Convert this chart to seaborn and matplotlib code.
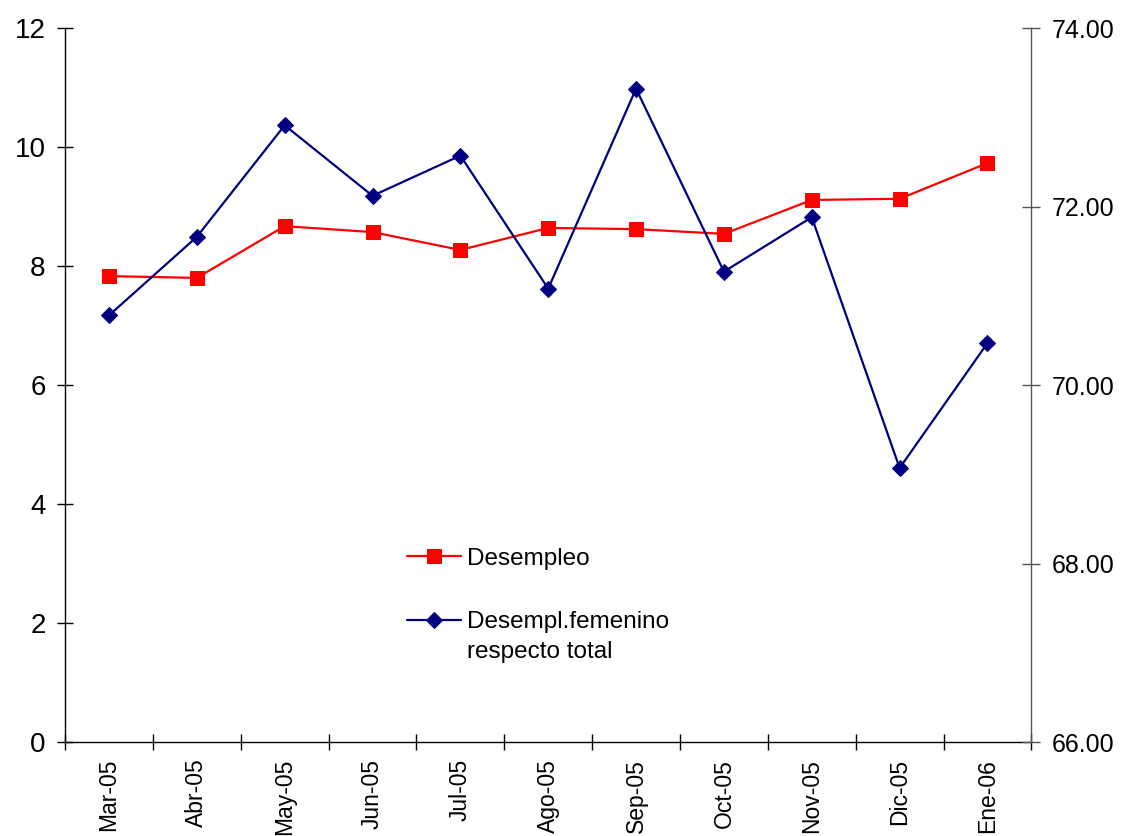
import matplotlib
matplotlib.use("Agg")
import matplotlib.pyplot as plt
import seaborn as sns
import pandas as pd
import numpy as np
from matplotlib.ticker import FixedLocator, FormatStrFormatter
from matplotlib.legend_handler import HandlerLine2D

sns.set_style("white")
plt.rcParams['font.family'] = ['Liberation Sans', 'DejaVu Sans']
plt.rcParams['text.color'] = 'black'
plt.rcParams['xtick.color'] = 'black'
plt.rcParams['ytick.color'] = 'black'

months = ["Mar-05", "Abr-05", "May-05", "Jun-05", "Jul-05", "Ago-05",
          "Sep-05", "Oct-05", "Nov-05", "Dic-05", "Ene-06"]
desempleo = [7.83, 7.80, 8.67, 8.57, 8.27, 8.64, 8.62, 8.54, 9.11, 9.13, 9.73]
femenino = [70.78, 71.66, 72.91, 72.12, 72.57, 71.08, 73.32, 71.27, 71.88, 69.07, 70.47]

label_red = "Desempleo"
label_blue = "Desempl.femenino\nrespecto total"

df = pd.DataFrame({"x": np.arange(len(months)), "des": desempleo, "fem": femenino})

fig = plt.figure(figsize=(11.25, 8.36), dpi=100)
ax = fig.add_axes([0.0578, 0.1124, 0.859, 0.8541])
ax2 = ax.twinx()

sns.lineplot(data=df, x="x", y="des", ax=ax, color="#FF0000", marker="s",
             markersize=10, markeredgecolor="#FF0000", linewidth=1.6, label=label_red, legend=False)
sns.lineplot(data=df, x="x", y="fem", ax=ax2, color="#000080", marker="D",
             markersize=8, markeredgecolor="#000080", linewidth=1.6, label=label_blue, legend=False)

ax.set_xlim(-0.5, len(months) - 0.5)
ax.set_ylim(0, 12)
ax2.set_ylim(66, 74)
ax.set_yticks(np.arange(0, 13, 2))
ax2.set_yticks(np.arange(66, 75, 2))
ax2.yaxis.set_major_formatter(FormatStrFormatter("%.2f"))

ax.set_xticks(np.arange(len(months)))
ax.set_xticklabels(months, rotation=90, fontsize=16.5)
ax.xaxis.set_minor_locator(FixedLocator(np.arange(-0.5, len(months), 1.0)))
ax.tick_params(axis="x", which="major", length=0, pad=12, colors="black")
ax.tick_params(axis="x", which="minor", length=12, width=1, direction="inout", color="black", bottom=True)
ax.tick_params(axis="y", labelsize=20, length=12, width=1, direction="inout", colors="black", left=True, pad=8)
ax2.tick_params(axis="y", labelsize=18, length=13, width=1, direction="inout", color="#555555",
                labelcolor="black", right=True, pad=8)

for a in (ax, ax2):
    a.set_xlabel("")
    a.set_ylabel("")
    a.spines["top"].set_visible(False)
ax.spines["right"].set_visible(False)
ax2.spines["left"].set_visible(False)
ax2.spines["bottom"].set_visible(False)
ax.spines["left"].set_color("black")
ax.spines["bottom"].set_color("black")
ax2.spines["right"].set_color("#555555")
for s in ("left", "bottom"):
    ax.spines[s].set_linewidth(1)
ax2.spines["right"].set_linewidth(1)


class FirstLineHandler(HandlerLine2D):
    def __init__(self, shift, **kw):
        super().__init__(**kw)
        self.shift = shift

    def create_artists(self, legend, orig_handle, xdescent, ydescent, width,
                       height, fontsize, trans):
        arts = super().create_artists(legend, orig_handle, xdescent, ydescent,
                                      width, height, fontsize, trans)
        for a in arts:
            a.set_ydata(np.asarray(a.get_ydata(), dtype=float) + self.shift * fontsize)
        return arts


h1, l1 = ax.get_legend_handles_labels()
h2, l2 = ax2.get_legend_handles_labels()
leg = ax2.legend(h1 + h2, l1 + l2, loc="upper left", bbox_to_anchor=(0.344, 0.286),
                 frameon=False, fontsize=17.5, labelspacing=1.7, handlelength=2.2,
                 handletextpad=0.25, borderaxespad=0,
                 handler_map={h2[0]: FirstLineHandler(0.72)})
leg.get_texts()[1].set_linespacing(1.5)

fig.savefig("out.png", dpi=100)
